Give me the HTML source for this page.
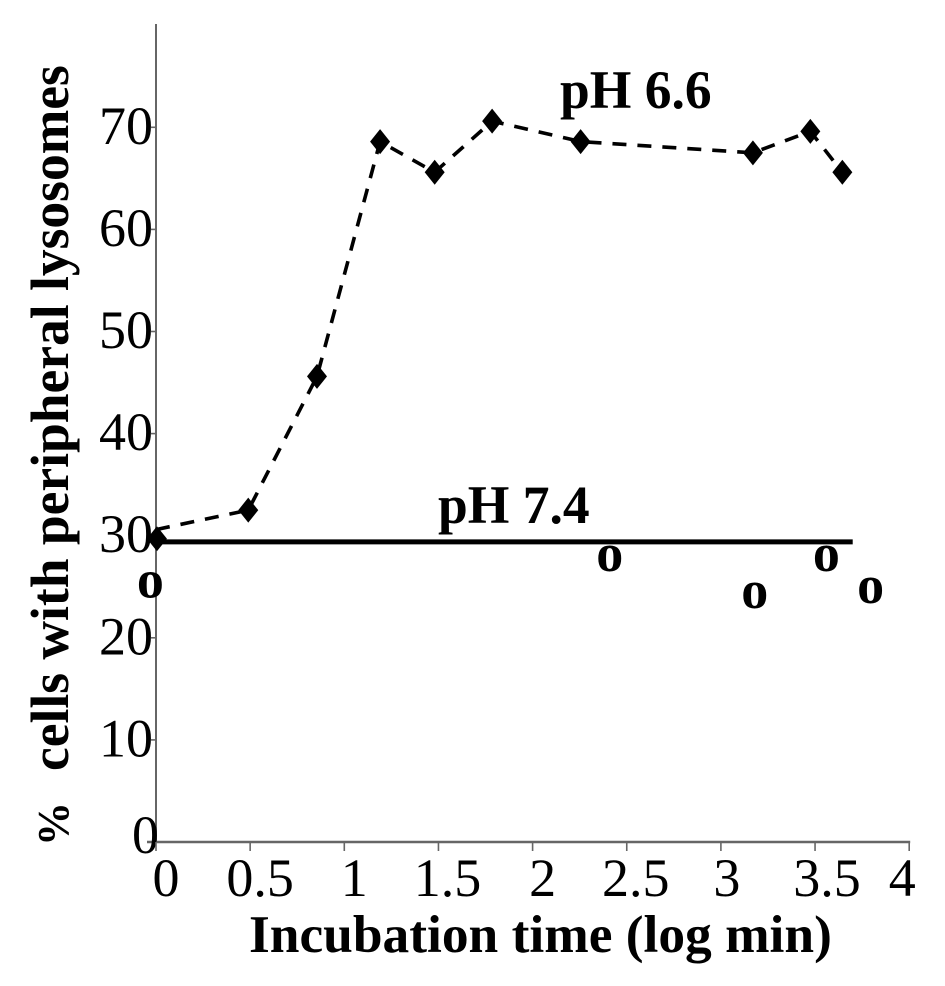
<!DOCTYPE html>
<html lang="en">
<head>
<meta charset="utf-8">
<title>Peripheral lysosomes vs incubation time</title>
<style>
html,body{margin:0;padding:0;background:#fff;}
svg{display:block;}
text{font-family:"Liberation Serif",serif;fill:#000;}
.b{font-weight:bold;}
</style>
</head>
<body>
<svg id="chart" width="945" height="986" viewBox="0 0 945 986" xmlns="http://www.w3.org/2000/svg">
<rect x="0" y="0" width="945" height="986" fill="#fff"/>
<text class="b" font-size="44" transform="translate(68,846) rotate(-90)">%</text>
<text class="b" font-size="53.5" transform="translate(68,771) rotate(-90)">cells with peripheral lysosomes</text>
<text class="b" font-size="53.4" x="249" y="952">Incubation time (log min)</text>
<text class="b" font-size="53.5" x="560" y="108">pH 6.6</text>
<text class="b" font-size="53.5" x="438" y="523">pH 7.4</text>
</svg>
<script>
const xTickValues = [0, 0.5, 1, 1.5, 2, 2.5, 3, 3.5, 4];
const xTickLabels = ['0', '0.5', '1', '1.5', '2', '2.5', '3', '3.5', '4'];
const yTickValues = [0, 10, 20, 30, 40, 50, 60, 70];
const yTickLabels = ['0', '10', '20', '30', '40', '50', '60', '70'];
const ph66Times = [0, 0.49, 0.855, 1.19, 1.48, 1.785, 2.255, 3.17, 3.475, 3.645];
const ph66Values = [30.6, 32.5, 45.6, 68.6, 65.6, 70.6, 68.6, 67.5, 69.6, 65.6];
const ph74LineTimes = [0, 3.7];
const ph74LineValues = [29.4, 29.4];
const ph74StartTimes = [0.005];
const ph74StartValues = [29.7];
const ph74PointTimes = [-0.03, 2.41, 3.18, 3.56, 3.795];
const ph74PointValues = [25.1, 27.7, 24.1, 27.7, 24.6];

const svg = document.getElementById('chart');
const NS = 'http://www.w3.org/2000/svg';
const X0 = 156, XUNIT = 188.3, Y0 = 842, YUNIT = 10.21;
const xScale = v => X0 + v * XUNIT;
const yScale = v => Y0 - v * YUNIT;

function make(tag, attrs) {
  const el = document.createElementNS(NS, tag);
  for (const k in attrs) el.setAttribute(k, attrs[k]);
  svg.appendChild(el);
  return el;
}

const yAxis = make('line', {x1: X0, x2: X0, y1: 24, y2: Y0 + 1, stroke: '#666', 'stroke-width': 2});


const xAxis = make('line', {x1: X0 - 9, x2: xScale(4) + 1, y1: Y0, y2: Y0, stroke: '#666', 'stroke-width': 2.4});



yTickValues.forEach((v, i) => {
  const t = make('line', {x1: X0 - 5, x2: X0, y1: yScale(v), y2: yScale(v), stroke: '#666', 'stroke-width': 1.6});
  
  
  const zero = v === 0;
  const l = make('text', {x: zero ? X0 + 3 : X0 - 3, y: yScale(v) + (zero ? 11 : 16.5), 'font-size': 54, 'text-anchor': 'end'});
  l.textContent = yTickLabels[i];
  
  
});

xTickValues.forEach((v, i) => {
  const t = make('line', {x1: xScale(v), x2: xScale(v), y1: Y0, y2: Y0 + 9, stroke: '#666', 'stroke-width': 1.6});
  
  
  const nudge = v === 4 ? -7 : (v === 3 ? 6 : (v === 2.5 || v === 1.5 ? 9 : (v === 3.5 ? 12 : 10)));
  const l = make('text', {x: xScale(v) + nudge, y: 896, 'font-size': 54, 'text-anchor': 'middle'});
  l.textContent = xTickLabels[i];
  
  
});

const dashed = make('polyline', {
  points: ph66Times.map((t, i) => xScale(t) + ',' + yScale(ph66Values[i])).join(' '),
  fill: 'none', stroke: '#000', 'stroke-width': 3.6, 'stroke-dasharray': '14 11'
});



const solid = make('polyline', {
  points: ph74LineTimes.map((t, i) => xScale(t) + ',' + yScale(ph74LineValues[i])).join(' '),
  fill: 'none', stroke: '#000', 'stroke-width': 5
});



function diamond(t, v) {
  const cx = xScale(t), cy = yScale(v);
  return make('polygon', {
    points: cx + ',' + (cy - 12.5) + ' ' + (cx + 10) + ',' + cy + ' ' + cx + ',' + (cy + 12.5) + ' ' + (cx - 10) + ',' + cy,
    fill: '#000'
  });
}
ph66Times.forEach((t, i) => {
  if (i === 0) return;
  const d = diamond(t, ph66Values[i]);
  
  
});
ph74StartTimes.forEach((t, i) => {
  const d = diamond(t, ph74StartValues[i]);
  
  
});
ph74PointTimes.forEach((t, i) => {
  const o = make('text', {x: xScale(t), y: yScale(ph74PointValues[i]) + 12, 'font-size': 54, 'font-weight': 'bold', 'text-anchor': 'middle'});
  o.textContent = 'o';
  
  
});
</script>
</body>
</html>
